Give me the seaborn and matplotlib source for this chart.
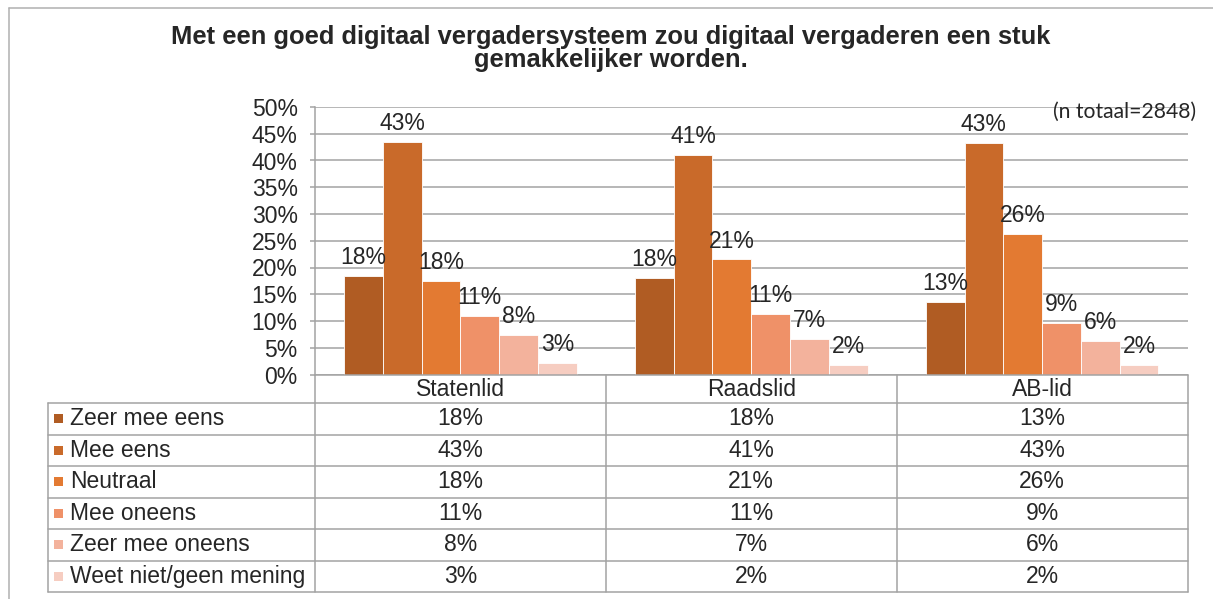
import numpy as np
import pandas as pd
import matplotlib
matplotlib.use('Agg')
import matplotlib.pyplot as plt
from matplotlib.patches import Rectangle
import seaborn as sb

# Data
groepen = ['Statenlid', 'Raadslid', 'AB-lid']
antwoorden = ['Zeer mee eens', 'Mee eens', 'Neutraal', 'Mee oneens',
              'Zeer mee oneens', 'Weet niet/geen mening']
statenlid = [18.4, 43.4, 17.5, 10.9, 7.4, 2.2]
raadslid = [18.0, 41.1, 21.5, 11.3, 6.6, 1.7]
ablid = [13.5, 43.3, 26.2, 9.6, 6.2, 1.7]
# printed percentages (labels + table)
statenlid_lbl = ['18%', '43%', '18%', '11%', '8%', '3%']
raadslid_lbl = ['18%', '41%', '21%', '11%', '7%', '2%']
ablid_lbl = ['13%', '43%', '26%', '9%', '6%', '2%']
kleuren = ['#B05C23', '#C96A2A', '#E37A32', '#EF9168', '#F3B29C', '#F6CDC1']

titel = 'Met een goed digitaal vergadersysteem zou digitaal vergaderen een stuk\ngemakkelijker worden.'
notitie = '(n totaal=2848)'

waarden = {'Statenlid': statenlid, 'Raadslid': raadslid, 'AB-lid': ablid}
labels = {'Statenlid': statenlid_lbl, 'Raadslid': raadslid_lbl, 'AB-lid': ablid_lbl}

df = pd.DataFrame([(g, a, waarden[g][i]) for g in groepen for i, a in enumerate(antwoorden)],
                  columns=['groep', 'antwoord', 'pct'])

sb.set_style('white')
plt.rcParams['font.family'] = ['Liberation Sans', 'DejaVu Sans']

W, H = 1213, 599
fig = plt.figure(figsize=(W / 100, H / 100), dpi=100)

# layout in pixels
L, R = 315, 1187.5
TOP, BASE = 107, 374.5
TAB_L = 48
HEAD_B = 403
ROW_H = 31.5
grid_c = '#A3A3A3'
fs = 16.5

ax = fig.add_axes([L / W, 1 - BASE / H, (R - L) / W, (BASE - TOP) / H])
sb.barplot(data=df, x='groep', y='pct', hue='antwoord', order=groepen, hue_order=antwoorden,
           palette=kleuren, saturation=1, errorbar=None, legend=False,
           edgecolor='white', linewidth=0.6, ax=ax, zorder=3)
ax.set_xlim(-0.5, 2.5)
ax.set_ylim(0, 50)
ax.set_yticks(np.arange(0, 51, 5))
ax.set_yticklabels(['%d%%' % v for v in range(0, 51, 5)], fontsize=fs)
ax.set_xticks([])
ax.set_xlabel('')
ax.set_ylabel('')
ax.yaxis.grid(True, color=grid_c, linewidth=1.1, zorder=0)
ax.set_axisbelow(True)
ax.tick_params(axis='y', length=3.5, width=1.1, color=grid_c, pad=9, left=True)
for s in ['top', 'right', 'bottom']:
    ax.spines[s].set_visible(False)
ax.spines['left'].set_color(grid_c)
ax.spines['left'].set_linewidth(1.1)

for i, cont in enumerate(ax.containers):
    ax.bar_label(cont, labels=[labels[g][i] for g in groepen], padding=5, fontsize=fs)

ax.text(1.01, 0.98, notitie, transform=ax.transAxes, ha='right', va='center',
        fontsize=15.2, family=['Lato', 'DejaVu Sans'])

# overlay for title, table and frame (pixel coordinates)
tab = fig.add_axes([0, 0, 1, 1])
tab.set_xlim(0, W)
tab.set_ylim(H, 0)
tab.axis('off')
tab.patch.set_alpha(0)

tab.text(611, 48.5, titel, ha='center', va='center', fontsize=18.4, fontweight='bold',
         linespacing=0.95)

# outer frame
tab.plot([9, 9], [8, H], color='#B0B0B0', lw=1.1)
tab.plot([9, W], [8, 8], color='#B0B0B0', lw=1.1)

col_w = (R - L) / 3
col_x = [L + k * col_w for k in range(4)]
row_y = [HEAD_B + k * ROW_H for k in range(len(antwoorden) + 1)]
bottom = row_y[-1]

tab.plot([L, R], [BASE, BASE], color=grid_c, lw=1.1)
for x in col_x:
    tab.plot([x, x], [BASE, bottom], color=grid_c, lw=1.1)
tab.plot([TAB_L, TAB_L], [HEAD_B, bottom], color=grid_c, lw=1.1)
for y in row_y:
    tab.plot([TAB_L, R], [y, y], color=grid_c, lw=1.1)

for k, g in enumerate(groepen):
    cx = col_x[k] + col_w / 2
    tab.text(cx, (BASE + HEAD_B) / 2 + 1, g, ha='center', va='center', fontsize=fs)
    for i in range(len(antwoorden)):
        tab.text(cx, row_y[i] + ROW_H / 2, labels[g][i], ha='center', va='center', fontsize=fs)

for i, a in enumerate(antwoorden):
    cy = row_y[i] + ROW_H / 2
    tab.add_patch(Rectangle((54, cy - 4.5), 9, 9, color=kleuren[i], lw=0))
    tab.text(70, cy, a, ha='left', va='center', fontsize=fs)

fig.savefig('out.png', dpi=100)
print('Finished!')
